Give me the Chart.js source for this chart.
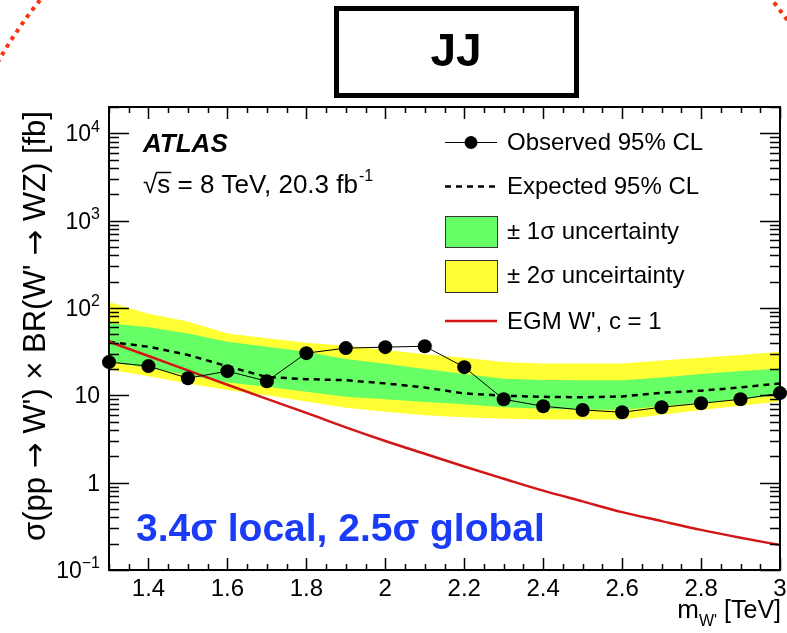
<!DOCTYPE html>
<html>
<head>
<meta charset="utf-8">
<script src="https://cdn.jsdelivr.net/npm/chart.js@4.4.0/dist/chart.umd.min.js"></script>
<style>
  html, body { margin: 0; padding: 0; background: #fff; }
  #wrap { width: 787px; height: 633px; }
</style>
</head>
<body>
<div id="wrap"><canvas id="limitChart" width="787" height="633"></canvas></div>
<script>
// W' mass points [TeV]
const massPoints = [1.3, 1.4, 1.5, 1.6, 1.7, 1.8, 1.9, 2.0, 2.1, 2.2, 2.3, 2.4, 2.5, 2.6, 2.7, 2.8, 2.9, 3.0];
// limits [fb]
const observed = [24, 21.6, 15.7, 18.9, 14.5, 30.4, 34.7, 35.6, 36.5, 21, 9.0, 7.5, 6.8, 6.4, 7.3, 8.1, 9.0, 10.6];
const expected = [41, 36, 29, 21.5, 16.2, 15.3, 14.9, 13.7, 12.3, 10.5, 9.9, 9.6, 9.5, 9.7, 10.7, 11.3, 12.3, 13.7];
const oneSigmaUp = [67, 60, 51, 41, 36, 31.5, 26, 23, 20, 17.5, 15.5, 15, 14.9, 14.9, 16, 17.5, 19, 20.3];
const oneSigmaDown = [24, 20.5, 17, 14, 12.5, 11, 9.6, 9.0, 8.4, 7.9, 7.3, 7.0, 6.9, 6.8, 7.5, 8.2, 9.0, 10];
const twoSigmaUp = [117, 86, 70, 51, 45, 40, 37, 33, 29.5, 27, 24, 23.2, 23.2, 23.2, 25, 27, 29, 31.5];
const twoSigmaDown = [19.7, 16.5, 13.7, 11.5, 10, 8.5, 7.2, 6.5, 5.9, 5.6, 5.4, 5.3, 5.3, 5.3, 6.0, 6.8, 7.6, 8.5];
const egmTheory = [41, 28.2, 19.3, 13.2, 9.1, 6.3, 4.3, 3.0, 2.14, 1.53, 1.11, 0.81, 0.61, 0.46, 0.363, 0.288, 0.234, 0.193];

// tick labels
const xTickValues = [1.4, 1.6, 1.8, 2.0, 2.2, 2.4, 2.6, 2.8, 3.0];
const xTickLabels = ['1.4', '1.6', '1.8', '2', '2.2', '2.4', '2.6', '2.8', '3'];
const yDecades = [-1, 0, 1, 2, 3, 4];

const FONT = '"Liberation Sans", Arial, Helvetica, sans-serif';
const ARROW_FONT = '"DejaVu Sans", sans-serif';
const GREEN = '#66ff66';
const YELLOW = '#ffff33';
const RED = '#d41515';

const pts = (vals) => massPoints.map((m, i) => ({ x: m, y: vals[i] }));

// text with a raised superscript, right aligned at x
function supRight(ctx, base, sup, x, y, size) {
  ctx.font = size + 'px ' + FONT;
  const wb = ctx.measureText(base).width;
  ctx.font = Math.round(size * 0.68) + 'px ' + FONT;
  const ws = sup ? ctx.measureText(sup).width : 0;
  ctx.textAlign = 'left';
  ctx.textBaseline = 'alphabetic';
  ctx.font = size + 'px ' + FONT;
  ctx.fillText(base, x - wb - ws, y);
  if (sup) {
    ctx.font = Math.round(size * 0.68) + 'px ' + FONT;
    ctx.fillText(sup, x - ws, y - size * 0.42);
  }
}

// y title pieces: arrows from a font with wider arrow glyphs
const yTitleParts = [
  ['\u03c3(pp ', FONT], ['\u2192', ARROW_FONT], [" W') \u00d7 BR(W' ", FONT],
  ['\u2192', ARROW_FONT], [' WZ) [fb]', FONT]
];

const decorations = {
  id: 'decorations',
  beforeDraw(chart) {
    const ctx = chart.ctx;
    ctx.save();
    ctx.fillStyle = '#fff';
    ctx.fillRect(0, 0, chart.width, chart.height);

    // dotted red circle peeking in at the top corners
    ctx.beginPath();
    ctx.rect(0, 0, chart.width, 70);
    ctx.clip();
    ctx.strokeStyle = '#f5330f';
    ctx.lineWidth = 4;
    ctx.setLineDash([4, 5]);
    ctx.beginPath();
    ctx.arc(406, 295, 470, 0, Math.PI * 2);
    ctx.stroke();
    ctx.restore();

    // JJ box
    ctx.save();
    ctx.strokeStyle = '#000';
    ctx.lineWidth = 5;
    ctx.strokeRect(336.5, 8.5, 240, 87);
    ctx.fillStyle = '#000';
    ctx.font = 'bold 46px ' + FONT;
    ctx.textAlign = 'center';
    ctx.textBaseline = 'middle';
    ctx.fillText('JJ', 456, 53);
    ctx.restore();
  },
  afterDraw(chart) {
    const ctx = chart.ctx;
    const a = chart.chartArea;
    const xs = chart.scales.x;
    const ys = chart.scales.y;
    ctx.save();
    ctx.strokeStyle = '#000';
    ctx.fillStyle = '#000';

    // frame
    ctx.lineWidth = 2;
    ctx.strokeRect(a.left, a.top, a.right - a.left, a.bottom - a.top);

    // y ticks (log)
    ctx.lineWidth = 1.5;
    ctx.beginPath();
    for (const d of yDecades) {
      for (let k = 1; k <= 9; k++) {
        const v = k * Math.pow(10, d);
        if (v > ys.max || v < ys.min) continue;
        const py = Math.round(ys.getPixelForValue(v)) + 0.5;
        const len = k === 1 ? 20 : 10;
        ctx.moveTo(a.left, py); ctx.lineTo(a.left + len, py);
        ctx.moveTo(a.right, py); ctx.lineTo(a.right - len, py);
      }
    }
    // x ticks every 0.05, major every 0.2
    for (let i = 0; i <= 34; i++) {
      const m = 1.3 + i * 0.05;
      const px = Math.round(xs.getPixelForValue(m)) + 0.5;
      const major = (i - 2) % 4 === 0;
      const len = major ? 12 : 6;
      ctx.moveTo(px, a.bottom); ctx.lineTo(px, a.bottom - len);
      ctx.moveTo(px, a.top); ctx.lineTo(px, a.top + len);
    }
    ctx.stroke();

    // y tick labels
    for (const d of yDecades) {
      const py = ys.getPixelForValue(Math.pow(10, d)) + 8;
      if (d === 0) supRight(ctx, '1', '', 100, py, 23);
      else if (d === 1) supRight(ctx, '10', '', 100, py, 23);
      else supRight(ctx, '10', d < 0 ? '\u2212' + (-d) : String(d), 100, py, 23);
    }
    // x tick labels
    ctx.font = '24px ' + FONT;
    ctx.textAlign = 'center';
    ctx.textBaseline = 'alphabetic';
    xTickValues.forEach((v, i) => {
      ctx.fillText(xTickLabels[i], xs.getPixelForValue(v), 596);
    });

    // x axis title
    ctx.textAlign = 'left';
    ctx.font = '25px ' + FONT;
    const unit = ' [TeV]';
    const wu = ctx.measureText(unit).width;
    ctx.fillText(unit, 781 - wu, 618);
    ctx.font = '16px ' + FONT;
    const wsub = ctx.measureText("W'").width;
    ctx.fillText("W'", 781 - wu - wsub, 626);
    ctx.font = '26px ' + FONT;
    const wm = ctx.measureText('m').width;
    ctx.fillText('m', 781 - wu - wsub - wm, 618);

    // y axis title
    ctx.save();
    ctx.translate(45, 326);
    ctx.rotate(-Math.PI / 2);
    ctx.textAlign = 'left';
    const ySize = 31;
    let total = 0;
    for (const [t, f] of yTitleParts) { ctx.font = ySize + 'px ' + f; total += ctx.measureText(t).width; }
    let cx = -total / 2;
    for (const [t, f] of yTitleParts) {
      ctx.font = ySize + 'px ' + f;
      ctx.fillText(t, cx, 0);
      cx += ctx.measureText(t).width;
    }
    ctx.restore();

    // ATLAS label
    ctx.textAlign = 'left';
    ctx.font = 'italic bold 26px ' + FONT;
    ctx.fillText('ATLAS', 143, 152);
    ctx.font = '26px ' + FONT;
    const s1 = '\u221as = 8 TeV, 20.3 fb';
    ctx.fillText(s1, 143, 193);
    const w1 = ctx.measureText(s1).width;
    const wsq = ctx.measureText('\u221a').width;
    const wss = ctx.measureText('s').width;
    ctx.lineWidth = 1.5;
    ctx.beginPath();
    ctx.moveTo(143 + wsq - 1, 172.5); ctx.lineTo(143 + wsq + wss + 1, 172.5);
    ctx.stroke();
    ctx.font = '16px ' + FONT;
    ctx.fillText('-1', 143 + w1 + 1, 181);

    // significance
    ctx.fillStyle = '#1a3cf8';
    ctx.font = 'bold 39px ' + FONT;
    ctx.fillText('3.4\u03c3 local, 2.5\u03c3 global', 136, 541);

    // legend
    const ds = chart.data.datasets;
    const lx0 = 445, lx1 = 497, tx = 507;
    ctx.fillStyle = '#000';
    ctx.font = '24px ' + FONT;
    ctx.textBaseline = 'middle';
    // observed
    ctx.strokeStyle = '#000';
    ctx.lineWidth = 1;
    ctx.beginPath(); ctx.moveTo(lx0, 142.5); ctx.lineTo(lx1, 142.5); ctx.stroke();
    ctx.beginPath(); ctx.arc((lx0 + lx1) / 2, 142.5, 6.5, 0, Math.PI * 2); ctx.fill();
    ctx.fillText(ds[0].label, tx, 143);
    // expected
    ctx.lineWidth = 2.5;
    ctx.setLineDash([6, 5]);
    ctx.beginPath(); ctx.moveTo(lx0, 186.5); ctx.lineTo(lx1, 186.5); ctx.stroke();
    ctx.setLineDash([]);
    ctx.fillText(ds[2].label, tx, 187);
    // bands
    ctx.lineWidth = 1;
    ctx.strokeStyle = '#333';
    ctx.fillStyle = GREEN;
    ctx.fillRect(lx0, 216, lx1 - lx0, 31);
    ctx.strokeRect(lx0 + 0.5, 216.5, lx1 - lx0, 31);
    ctx.fillStyle = YELLOW;
    ctx.fillRect(lx0, 260, lx1 - lx0, 32);
    ctx.strokeRect(lx0 + 0.5, 260.5, lx1 - lx0, 32);
    ctx.fillStyle = '#000';
    ctx.fillText(ds[3].label, tx, 232);
    ctx.fillText(ds[5].label, tx, 276);
    // theory
    ctx.strokeStyle = RED;
    ctx.lineWidth = 2.5;
    ctx.beginPath(); ctx.moveTo(lx0, 321); ctx.lineTo(lx1, 321); ctx.stroke();
    ctx.fillText(ds[1].label, tx, 322);

    ctx.restore();
  }
};

const ctx = document.getElementById('limitChart').getContext('2d');
new Chart(ctx, {
  type: 'line',
  data: {
    datasets: [
      {
        label: 'Observed 95% CL',
        data: pts(observed),
        borderColor: '#000',
        borderWidth: 1,
        pointRadius: 7,
        pointBackgroundColor: '#000',
        pointBorderWidth: 0,
        fill: false,
        clip: false
      },
      {
        label: "EGM W', c = 1",
        data: pts(egmTheory),
        borderColor: RED,
        borderWidth: 2.5,
        pointRadius: 0,
        cubicInterpolationMode: 'monotone',
        fill: false
      },
      {
        label: 'Expected 95% CL',
        data: pts(expected),
        borderColor: '#000',
        borderWidth: 2.5,
        borderDash: [6, 5],
        pointRadius: 0,
        fill: false
      },
      {
        label: '\u00b1 1\u03c3 uncertainty',
        data: pts(oneSigmaUp),
        borderWidth: 0,
        borderColor: 'rgba(0,0,0,0)',
        backgroundColor: GREEN,
        pointRadius: 0,
        fill: 4
      },
      {
        label: '1s down',
        data: pts(oneSigmaDown),
        borderWidth: 0,
        borderColor: 'rgba(0,0,0,0)',
        pointRadius: 0,
        fill: false
      },
      {
        label: '\u00b1 2\u03c3 unceirtainty',
        data: pts(twoSigmaUp),
        borderWidth: 0,
        borderColor: 'rgba(0,0,0,0)',
        backgroundColor: YELLOW,
        pointRadius: 0,
        fill: 6
      },
      {
        label: '2s down',
        data: pts(twoSigmaDown),
        borderWidth: 0,
        borderColor: 'rgba(0,0,0,0)',
        pointRadius: 0,
        fill: false
      }
    ]
  },
  options: {
    responsive: false,
    animation: false,
    devicePixelRatio: 1,
    layout: { padding: { left: 109, top: 107, right: 6, bottom: 63 } },
    scales: {
      x: { type: 'linear', min: 1.3, max: 3.0, display: false },
      y: { type: 'logarithmic', min: 0.1, max: 20000, display: false }
    },
    plugins: {
      legend: { display: false },
      tooltip: { enabled: false }
    }
  },
  plugins: [decorations]
});
</script>
</body>
</html>
